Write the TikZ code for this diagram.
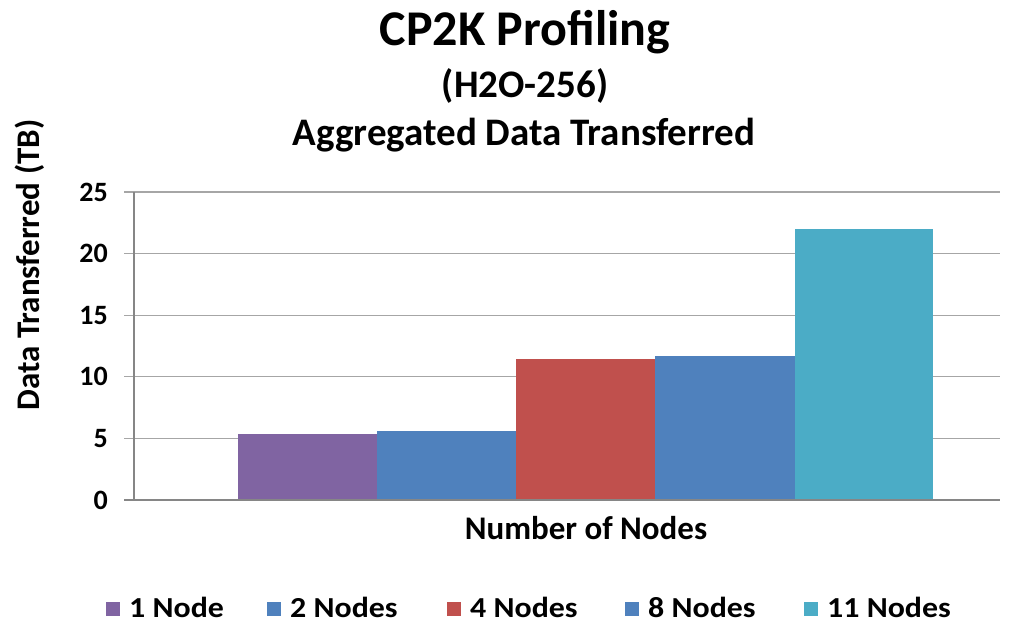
\documentclass[tikz,border=0pt]{standalone}
\usepackage{fontspec}
\setmainfont{Carlito}
\definecolor{cpurple}{HTML}{8064A2}
\definecolor{cblue}{HTML}{4F81BD}
\definecolor{cred}{HTML}{C0504D}
\definecolor{ccyan}{HTML}{4BACC6}
\definecolor{cgrid}{HTML}{A6A6A6}
\definecolor{caxis}{HTML}{868686}
\begin{document}
\begin{tikzpicture}[x=1pt,y=-1pt,
  grid/.style={draw=cgrid,line width=1.3pt},
  axisline/.style={draw=caxis,line width=1.3pt},
  ticklab/.style={anchor=east,font=\fontsize{28}{28}\bfseries\selectfont,inner sep=0pt},
  legsq/.style={minimum size=14pt,inner sep=0pt,anchor=west},
  leglab/.style={anchor=base west,font=\fontsize{29}{29}\bfseries\selectfont,inner sep=0pt,xscale=1.1}]
\useasboundingbox[fill=white] (0,0) rectangle (1024,624);
% titles
\node[font=\fontsize{50}{50}\bfseries\selectfont,anchor=base] (title) at (525,45) {CP2K Profiling};
\node[font=\fontsize{39}{39}\bfseries\selectfont,anchor=base] (sub) at (525,97) {(H2O-256)};
\node[font=\fontsize{39}{39}\bfseries\selectfont,anchor=base] (sub2) at (524,145) {Aggregated Data Transferred};
% gridlines
\foreach \v/\yy in {5/438.4,10/376.8,15/315.2,20/253.6,25/192}{
  \draw[grid] (124,\yy) -- (1000,\yy);
}
% bars
\fill[cpurple] (238,500) rectangle (377,433.5);
\fill[cblue] (377,500) rectangle (516,431);
\fill[cred] (516,500) rectangle (655,358.5);
\fill[cblue] (655,500) rectangle (795,355.5);
\fill[ccyan] (795,500) rectangle (933,229);
% axes
\draw[axisline] (134,192) -- (134,500);
\draw[axisline] (124,500) -- (1000,500);
% tick labels
\foreach \v/\yy in {0/500,5/438.4,10/376.8,15/315.2,20/253.6,25/192}{
  \node[ticklab] (t\v) at (108,\yy) {\v};
}
% axis titles
\node[font=\fontsize{33}{33}\bfseries\selectfont,rotate=90] (ylab) at (30,265) {Data Transferred (TB)};
\node[font=\fontsize{33}{33}\bfseries\selectfont] (xlab) at (586,528) {Number of Nodes};
% legend
\node[legsq,fill=cpurple] (s1) at (106,609) {};
\node[leglab] (l1) at (129,617) {1 Node};
\node[legsq,fill=cblue] (s2) at (267,609) {};
\node[leglab] (l2) at (290,617) {2 Nodes};
\node[legsq,fill=cred] (s3) at (447,609) {};
\node[leglab] (l3) at (470,617) {4 Nodes};
\node[legsq,fill=cblue] (s4) at (625,609) {};
\node[leglab] (l4) at (648,617) {8 Nodes};
\node[legsq,fill=ccyan] (s5) at (804,609) {};
\node[leglab] (l5) at (827,617) {11 Nodes};
\end{tikzpicture}
\end{document}
